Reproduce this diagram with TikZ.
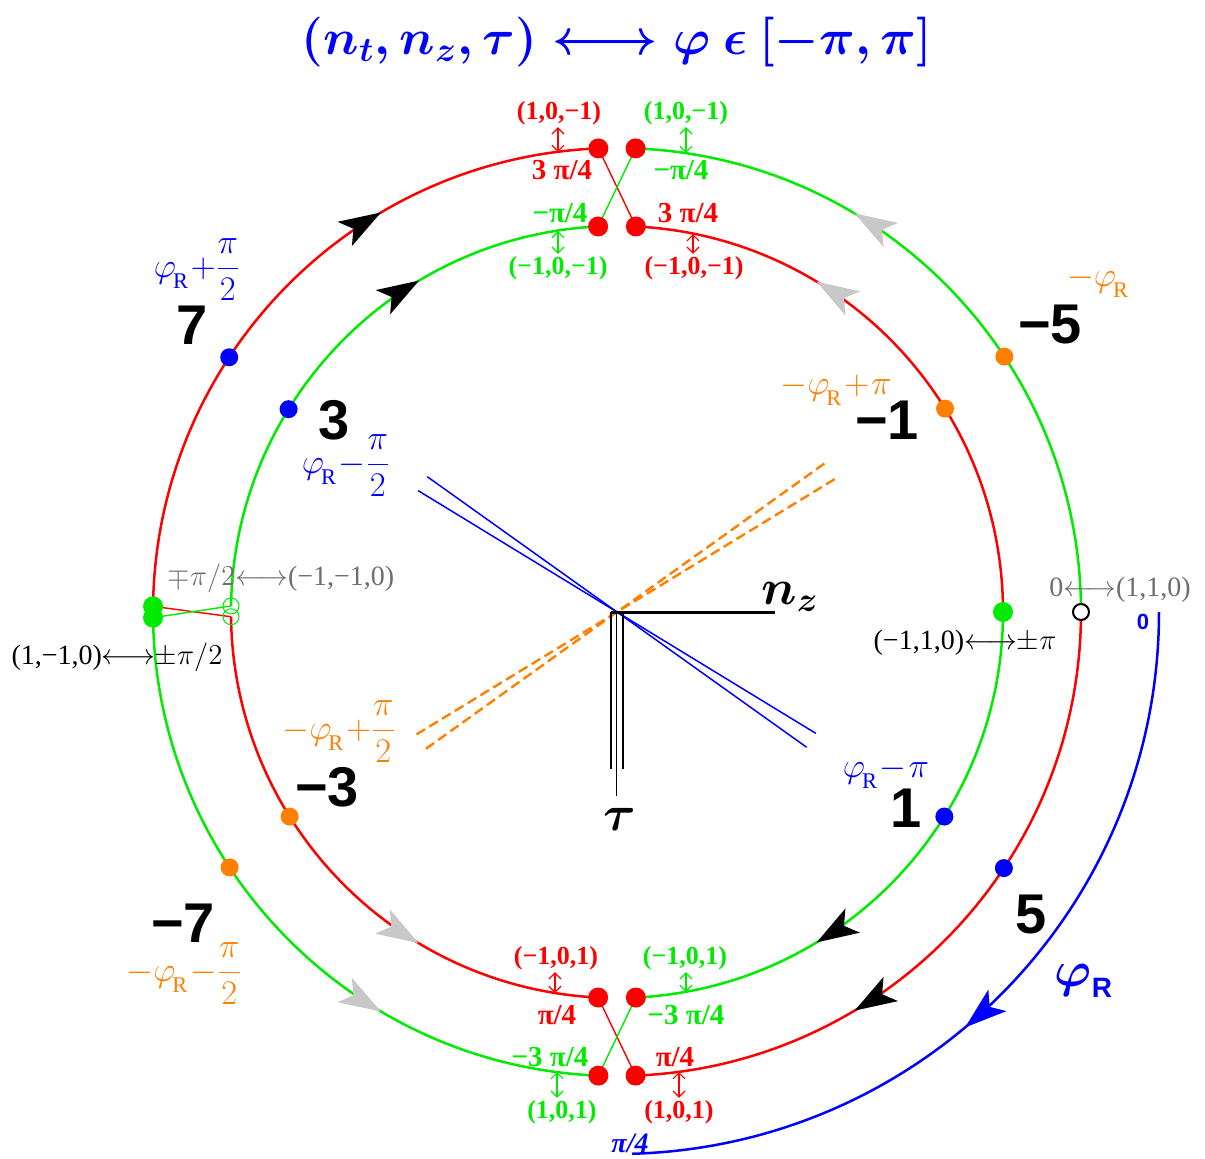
\documentclass[tikz,border=0pt]{standalone}
\usepackage{amsmath}
\usepackage{fontspec}
\setmainfont{Liberation Serif}
\newfontfamily\numfont{Liberation Sans}
\usepackage{tikz}
\usetikzlibrary{arrows.meta,decorations.markings}
\definecolor{ringred}{RGB}{255,0,0}
\definecolor{ringgreen}{RGB}{0,235,0}
\definecolor{phiblue}{RGB}{0,0,255}
\definecolor{phiorange}{RGB}{255,128,0}
\definecolor{tupgray}{RGB}{110,110,110}
\definecolor{headgray}{RGB}{200,200,200}
\newcommand{\rOut}{464}
\newcommand{\rIn}{386}
\newcommand{\phR}{\varphi_{\kern-1.5pt\lower3pt\hbox{$\scriptstyle\mathrm{R}$}}}
\newcommand{\ringarc}[5]{%
  \draw[ring,#1,flow={#5}{0.675}] (#2:#4) arc[start angle=#2,end angle=#3,radius=#4];%
}
\newcommand{\tupletag}[6]{%
  \coordinate (#1arc) at (#6);%
  \node[tuple,text=#2] (#1) at (#3) {#4};%
  \draw[pairarrow,#2] (#1arc |- #1.#5) -- (#1arc);%
}

\begin{document}
\begin{tikzpicture}[x=0.5pt,y=0.5pt,
  ring/.style={line width=1.25pt},
  link/.style={line width=0.7pt},
  flow/.style n args={2}{postaction={decorate},decoration={markings,mark=at position #2 with {\arrow{Stealth[length=21pt,width=14pt,inset=5pt,color=#1,fill=#1]}}}},
  bignum/.style={font=\numfont\bfseries\fontsize{28}{30}\selectfont,inner sep=0pt},
  tuple/.style={font=\bfseries\fontsize{13}{14}\selectfont,inner sep=1pt},
  angtag/.style={font=\bfseries\fontsize{14.5}{15}\selectfont,inner sep=1pt},
  sidetag/.style={font=\fontsize{14}{15}\selectfont,inner sep=0pt},
  philbl/.style={font={\fontsize{16}{18}\selectfont\medmuskip=1mu\nulldelimiterspace=0pt},inner sep=0pt},
  headtxt/.style={font=\fontsize{24.5}{30}\selectfont,text=phiblue},
  pairarrow/.style={line width=0.6pt,{Straight Barb[length=3pt,width=6pt]}-{Straight Barb[length=3pt,width=6pt]}}]
  \useasboundingbox (-617,-546) rectangle (588,612);
  \node[headtxt] (heading) at (0,570) {{$\boldsymbol{(n_t,n_z,\tau)\longleftrightarrow\varphi\ \epsilon\ [-\pi,\pi]}$}};
  \ringarc{ringred}{179.3}{92.3}{\rOut}{black}
  \ringarc{ringgreen}{179.1}{92.8}{\rIn}{black}
  \ringarc{ringgreen}{0}{87.7}{\rOut}{headgray}
  \ringarc{ringred}{0}{87.2}{\rIn}{headgray}
  \ringarc{ringgreen}{180.7}{267.7}{\rOut}{headgray}
  \ringarc{ringred}{180.7}{267.2}{\rIn}{headgray}
  \ringarc{ringred}{360}{272.3}{\rOut}{black}
  \ringarc{ringgreen}{360}{272.8}{\rIn}{black}
  \draw[ring,phiblue,flow={phiblue}{0.566}] (0:542) arc[start angle=0,end angle=-88.4,radius=542];
  \coordinate (uOL) at (92.3:\rOut);
  \coordinate (uOR) at (87.7:\rOut);
  \coordinate (uIL) at (92.8:\rIn);
  \coordinate (uIR) at (87.2:\rIn);
  \coordinate (dOL) at (267.7:\rOut);
  \coordinate (dOR) at (272.3:\rOut);
  \coordinate (dIL) at (267.2:\rIn);
  \coordinate (dIR) at (272.8:\rIn);
  \coordinate (lOT) at (179.3:\rOut);
  \coordinate (lOB) at (180.7:\rOut);
  \coordinate (lIT) at (179.1:\rIn);
  \coordinate (lIB) at (180.7:\rIn);
  \coordinate (rI) at (0:\rIn);
  \coordinate (rO) at (0:\rOut);
  \draw[link,ringred] (uOL) -- (uIR);
  \draw[link,ringgreen] (uOR) -- (uIL);
  \draw[link,ringred] (dIL) -- (dOR);
  \draw[link,ringgreen] (dIR) -- (dOL);
  \draw[link,ringred] (lOT) -- (lIB);
  \draw[link,ringgreen] (lOB) -- (lIT);
  \foreach \p in {uOL,uOR,uIL,uIR,dOL,dOR,dIL,dIR} {\fill[ringred] (\p) circle[radius=10];}
  \foreach \p in {lOT,lOB,rI} {\fill[ringgreen] (\p) circle[radius=10];}
  \foreach \p in {lIT,lIB} {\draw[ringgreen,line width=0.5pt] (\p) circle[radius=8];}
  \draw[line width=1pt,fill=white] (rO) circle[radius=8];
  \foreach \a/\r/\c in {146.7/\rOut/phiblue,148.3/\rIn/phiblue,33.4/\rOut/phiorange,31.8/\rIn/phiorange,212/\rIn/phiorange,213.4/\rOut/phiorange,-32/\rIn/phiblue,-33.5/\rOut/phiblue} {\fill[\c] (\a:\r) circle[radius=9];}
  \draw[phiblue,line width=0.75pt] (144.5:233) -- (-35.5:233);
  \draw[phiblue,line width=0.75pt] (148.6:233) -- (-31.4:233);
  \draw[phiorange,line width=1.2pt,dash pattern=on 5pt off 2.5pt] (211.4:235) -- (31.4:260);
  \draw[phiorange,line width=1.2pt,dash pattern=on 5pt off 2.5pt] (215.6:235) -- (35.6:260);
  \coordinate (O) at (0,0);
  \coordinate (nzEnd) at (158,0);
  \draw[line width=1.5pt] ([xshift=-3pt]O) -- (nzEnd);
  \draw[line width=1pt] (-6,0) -- (-6,-157);
  \draw[line width=1pt] (6,0) -- (6,-157);
  \draw[line width=0.5pt] (O) -- (0,-184);
  \node[font=\fontsize{26}{28}\selectfont] (nzLbl) at (173,15) {$\boldsymbol{n_z}$};
  \node[font=\fontsize{26}{28}\selectfont] (tauLbl) at (3,-207) {$\boldsymbol{\tau}$};
  \tupletag{tA}{ringred}{-58,499}{(1,0,−1)}{south}{-59,460}
  \tupletag{tB}{ringgreen}{69,499}{(1,0,−1)}{south}{69,459}
  \tupletag{tC}{ringgreen}{-59,344}{(−1,0,−1)}{north}{-59,381}
  \tupletag{tD}{ringred}{77,344}{(−1,0,−1)}{north}{76,378}
  \tupletag{tE}{ringred}{-61,-346}{(−1,0,1)}{south}{-62,-381}
  \tupletag{tF}{ringgreen}{68,-346}{(−1,0,1)}{south}{69,-380}
  \tupletag{tG}{ringgreen}{-55,-500}{(1,0,1)}{north}{-60,-460}
  \tupletag{tH}{ringred}{62,-500}{(1,0,1)}{north}{62,-460}
  \node[angtag,text=ringred] (gA) at (-55,442) {3 π/4};
  \node[angtag,text=ringgreen] (gB) at (64,442) {−π/4};
  \node[angtag,text=ringgreen] (gC) at (-57,399) {−π/4};
  \node[angtag,text=ringred] (gD) at (71,399) {3 π/4};
  \node[angtag,text=ringred] (gE) at (-60,-403) {π/4};
  \node[angtag,text=ringgreen] (gF) at (69,-403) {−3 π/4};
  \node[angtag,text=ringgreen] (gG) at (-67,-445) {−3 π/4};
  \node[angtag,text=ringred] (gH) at (58,-445) {π/4};
  \node[sidetag,text=tupgray] (sLa) at (-336,34) {$\mp\pi/2${$\longleftrightarrow$}(−1,−1,0)};
  \node[sidetag] (sLb) at (-500,-45) {(1,−1,0){$\longleftrightarrow$}$\pm\pi/2$};
  \node[sidetag,text=tupgray] (sRa) at (503,22) {0{$\longleftrightarrow$}(1,1,0)};
  \node[sidetag] (sRb) at (348,-31) {(−1,1,0){$\longleftrightarrow$}$\pm\pi$};
  \node[font=\numfont\bfseries\fontsize{11}{12}\selectfont,text=phiblue] (zeroLbl) at (526,-10) {0};
  \node[font=\bfseries\itshape\fontsize{14}{15}\selectfont,text=phiblue] (quarterLbl) at (13,-531) {π/4};
  \node[bignum] (n7) at (-425,287) {7};
  \node[bignum] (n3) at (-283,192) {3};
  \node[bignum] (nm5) at (433,287) {−5};
  \node[bignum] (nm1) at (270,192) {−1};
  \node[bignum] (nm3) at (-290,-175) {−3};
  \node[bignum] (nm7) at (-434,-311) {−7};
  \node[bignum] (n1) at (289,-196) {1};
  \node[bignum] (n5) at (414,-303) {5};
  \node[philbl,text=phiblue] (p7) at (-421,342) {$\phR+\dfrac{\pi}{2}$};
  \node[philbl,text=phiblue] (p3) at (-272,146) {$\phR-\dfrac{\pi}{2}$};
  \node[philbl,text=phiorange] (pm5) at (481,330) {$-\phR$};
  \node[philbl,text=phiorange] (pm1) at (219,222) {$-\phR+\pi$};
  \node[philbl,text=phiorange] (pm3) at (-279,-120) {$-\phR+\dfrac{\pi}{2}$};
  \node[philbl,text=phiorange] (pm7) at (-434,-362) {$-\phR-\dfrac{\pi}{2}$};
  \node[philbl,text=phiblue] (p1) at (269,-161) {$\phR-\pi$};
  \node[font=\fontsize{30}{32}\selectfont,text=phiblue] (phiR) at (467,-369) {$\boldsymbol{\varphi}_{\text{\numfont\bfseries\fontsize{14}{14}\selectfont R}}$};
\end{tikzpicture}
\end{document}
